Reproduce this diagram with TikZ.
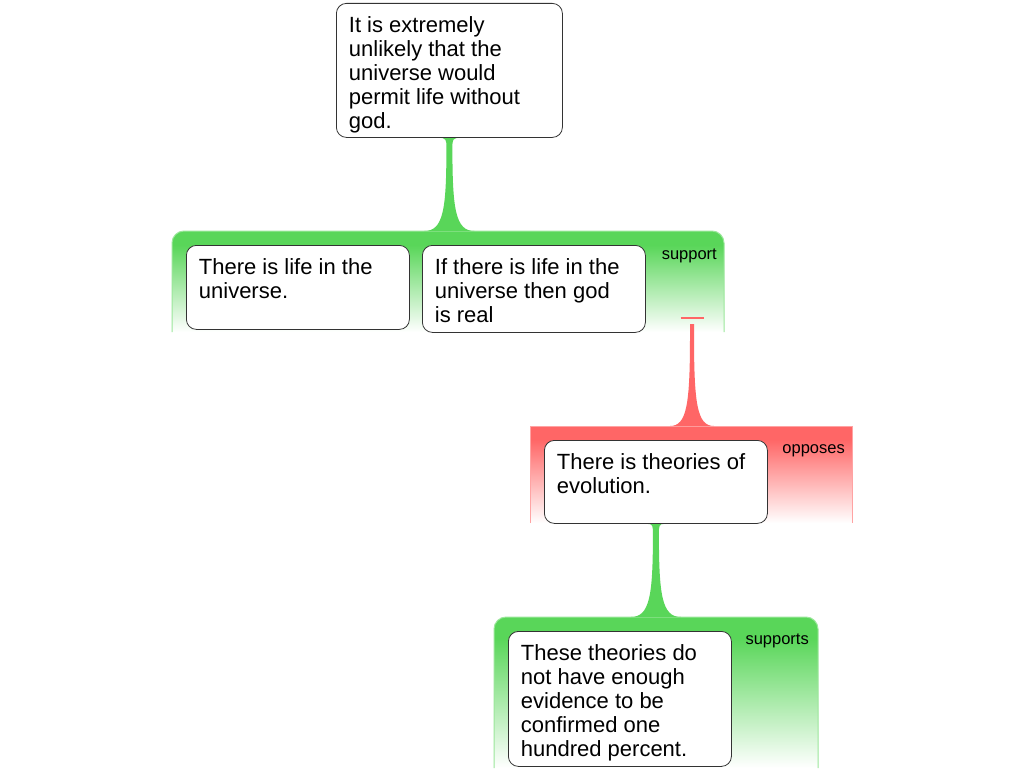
\documentclass[tikz,border=0pt]{standalone}
\usepackage{fontspec}
\setmainfont{Liberation Sans}
\usetikzlibrary{backgrounds,calc}
\definecolor{gg}{RGB}{89,214,89}
\definecolor{rr}{RGB}{255,102,102}
\pgfdeclareverticalshading{gfade}{100bp}{color(0bp)=(white); color(25bp)=(white); color(68bp)=(gg); color(100bp)=(gg)}
\pgfdeclareverticalshading{rfade}{100bp}{color(0bp)=(white); color(25bp)=(white); color(68bp)=(rr); color(100bp)=(rr)}
\newcommand\mystrut{\rule[-7pt]{0pt}{24pt}}
\newcommand\cardtext[4]{\parbox[c][#2pt][t]{#1pt}{\raggedright\fontsize{22}{24}\selectfont\vspace*{#3pt}\mystrut #4}}
% from, to, colour, flare half width, stem half width, bottom half width
\newcommand\taper[6]{%
  \fill[#3] let \p1=(#1), \p2=(#2) in
  (\x1-#4pt,\y1) .. controls (\x1-#5pt,\y1) and (\x1-#5pt,\y1-2pt) .. (\x1-#5pt,\y1-10pt)
  .. controls (\x1-#5pt,\y2+22pt) and (\x1-#5pt-3pt,\y2) .. (\x1-#6pt,\y2)
  -- (\x1+#6pt,\y2)
  .. controls (\x1+#5pt+3pt,\y2) and (\x1+#5pt,\y2+22pt) .. (\x1+#5pt,\y1-10pt)
  .. controls (\x1+#5pt,\y1-2pt) and (\x1+#5pt,\y1) .. (\x1+#4pt,\y1) -- cycle;}
\tikzset{
  card/.style={draw=black!80, line width=0.8pt, fill=white, rounded corners=10pt,
    inner xsep=12.5pt, inner ysep=0pt, anchor=north west},
  lbl/.style={font=\fontsize{16.5}{18}\selectfont, anchor=base east, inner sep=0pt},
  gside/.style={gg!60, line width=1pt},
  rside/.style={rr!60, line width=1pt}
}
\begin{document}
\begin{tikzpicture}[x=1pt,y=-1pt]
\useasboundingbox (0,0) rectangle (1024,768);
% cards
\node[card] (top) at (336,3) {\cardtext{201}{134}{12}{It is extremely\\unlikely that the\\universe would\\permit life without\\god.}};
\node[card] (c1) at (186,245) {\cardtext{198}{84}{12.5}{There is life in the\\universe.}};
\node[card] (c2) at (422,245) {\cardtext{198}{87}{12.5}{If there is life in the\\universe then god\\is real}};
\node[card] (c3) at (544,440) {\cardtext{198}{83}{12.5}{There is theories of\\evolution.}};
\node[card] (c4) at (508,631) {\cardtext{198}{135}{12.5}{These theories do\\not have enough\\evidence to be\\confirmed one\\hundred percent.}};
% labels
\node[lbl] (l1) at (717,259) {support};
\node[lbl] (l2) at (845,453) {opposes};
\node[lbl] (l3) at (809,644) {supports};
% anchor points
\coordinate (g1top) at (top.south |- 0,231);
\coordinate (g3top) at (c3.south |- 0,617);
\coordinate (opp) at (692,318);
\coordinate (opptop) at (692,324);
\coordinate (g2top) at (692,426);
\begin{pgfonlayer}{background}
\fill[white] (0,0) rectangle (1024,768);
% group 1
\shade[shading=gfade] (172,332) -- (172,243) arc[start angle=180,end angle=270,radius=12] -- (712,231) arc[start angle=270,end angle=360,radius=12] -- (724,332) -- cycle;
\draw[gside] (172,332) -- (172,243) arc[start angle=180,end angle=270,radius=12] -- (712,231) arc[start angle=270,end angle=360,radius=12] -- (724,332);
% group 2
\shade[shading=rfade] (530,426) rectangle (852,523);
\draw[rside] (530,523) -- (530,426) -- (852,426) -- (852,523);
% group 3
\shade[shading=gfade] (494,768) -- (494,629) arc[start angle=180,end angle=270,radius=12] -- (806,617) arc[start angle=270,end angle=360,radius=12] -- (818,768) -- cycle;
\draw[gside] (494,768) -- (494,629) arc[start angle=180,end angle=270,radius=12] -- (806,617) arc[start angle=270,end angle=360,radius=12] -- (818,768);
% connectors
\taper{top.south}{g1top}{gg}{11}{3}{25}
\taper{c3.south}{g3top}{gg}{9}{3}{25}
\draw[rr, line width=1.3pt] ($(opp)+(-11.5,0)$) -- ($(opp)+(11.5,0)$);
\taper{opptop}{g2top}{rr}{2}{2}{22}
\end{pgfonlayer}
\end{tikzpicture}
\end{document}
